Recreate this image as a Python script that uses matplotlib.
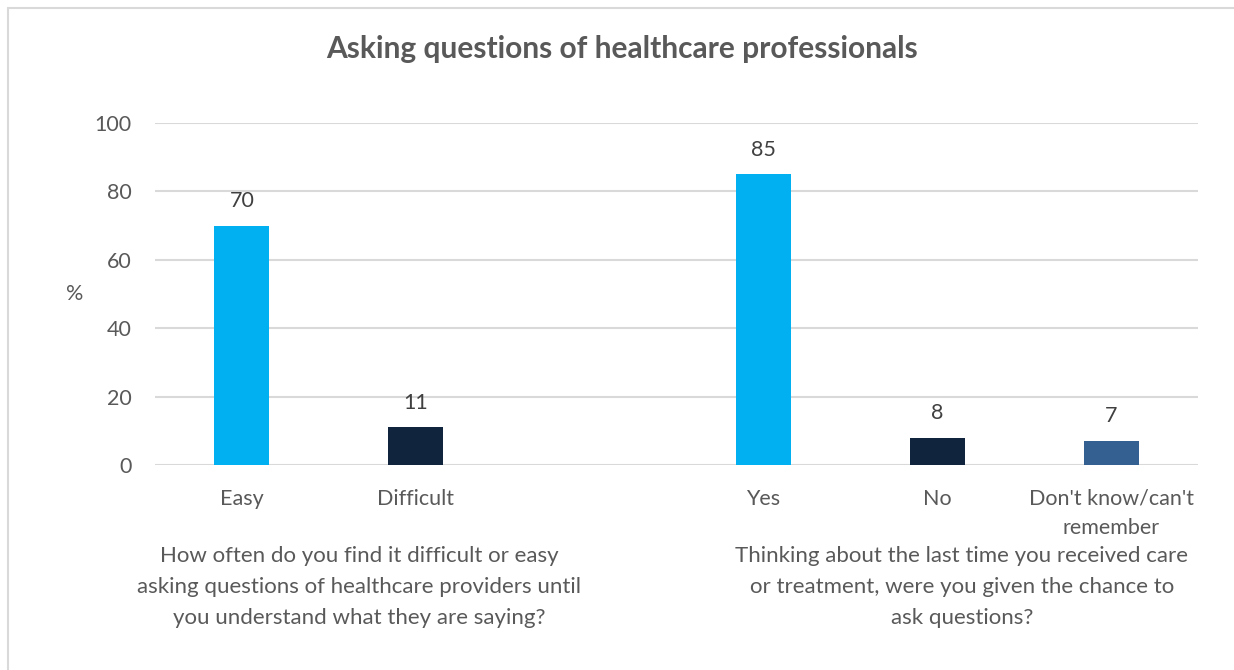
import matplotlib
matplotlib.use("Agg")
import matplotlib.pyplot as plt
from matplotlib.patches import Rectangle

plt.rcParams['font.family'] = ['Lato', 'DejaVu Sans']

# Survey results (%)
categories = ["Easy", "Difficult", "", "Yes", "No", "Don't know/can't\nremember"]
values = [70, 11, None, 85, 8, 7]
bar_colors = ["#00B0F0", "#10243E", None, "#00B0F0", "#10243E", "#335F91"]
group_labels = [
    "How often do you find it difficult or easy\nasking questions of healthcare providers until\nyou understand what they are saying?",
    "Thinking about the last time you received care\nor treatment, were you given the chance to\nask questions?",
]
title = "Asking questions of healthcare professionals"
yticks = [0, 20, 40, 60, 80, 100]

W, H = 1234, 670
fig = plt.figure(figsize=(W / 100, H / 100), dpi=100)
fig.patch.set_facecolor("white")

# chart frame
fig.patches.append(Rectangle((8 / W, -0.1), 1.2, (H - 8) / H + 0.1, transform=fig.transFigure,
                             fill=False, edgecolor="#D9D9D9", linewidth=1.5, zorder=0))

ax = fig.add_axes([155 / W, 1 - 465 / H, (1198 - 155) / W, (465 - 123) / H])

xs = [i for i, v in enumerate(values) if v is not None]
hs = [values[i] for i in xs]
cs = [bar_colors[i] for i in xs]
bars = ax.bar(xs, hs, width=0.316, color=cs, zorder=3)
for x, h in zip(xs, hs):
    ax.annotate(f"{h}", (x, h), xytext=(0, 10.5), textcoords="offset points",
                ha="center", va="bottom", fontsize=15.5, color="#404040")

ax.set_xlim(-0.5, len(categories) - 0.5)
ax.set_ylim(0, 100)
ax.set_yticks(yticks)
ax.yaxis.grid(True, color="#D9D9D9", linewidth=1.5, zorder=0)
ax.set_axisbelow(True)
for s in ax.spines.values():
    s.set_visible(False)
ax.tick_params(axis="y", length=0, pad=17, labelsize=15.5, labelcolor="#595959")
ax.set_xticks(range(len(categories)))
ax.set_xticklabels(categories, fontsize=15.5, color="#595959", linespacing=1.6)
ax.tick_params(axis="x", length=0, pad=17)
ax.set_ylabel("%", rotation=0, fontsize=15.5, color="#595959", labelpad=14, va="center")

fig.text(359 / W, 1 - 587 / H, group_labels[0], ha="center", va="center",
         fontsize=16, color="#595959", linespacing=1.7)
fig.text(962 / W, 1 - 587 / H, group_labels[1], ha="center", va="center",
         fontsize=16, color="#595959", linespacing=1.7)

fig.text(622 / W, 1 - 49 / H, title, ha="center", va="center",
         fontsize=21.5, fontweight="bold", color="#595959")

fig.savefig("out.png", dpi=100)
